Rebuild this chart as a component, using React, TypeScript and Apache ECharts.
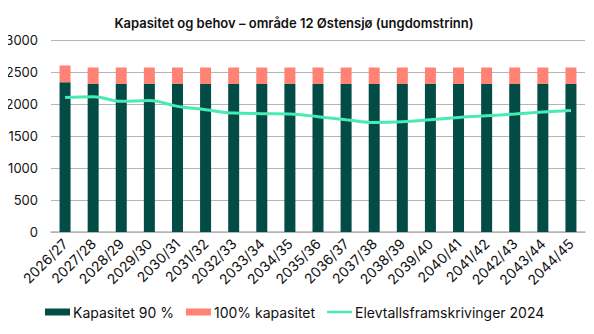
import React, { useEffect, useRef } from "react";
import * as echarts from "echarts";

const categories = [
  "2026/27", "2027/28", "2028/29", "2029/30", "2030/31", "2031/32", "2032/33",
  "2033/34", "2034/35", "2035/36", "2036/37", "2037/38", "2038/39", "2039/40",
  "2040/41", "2041/42", "2042/43", "2043/44", "2044/45",
];
const kapasitet90 = [
  2340, 2313, 2313, 2313, 2313, 2313, 2313, 2313, 2313, 2313, 2313, 2313, 2313,
  2313, 2313, 2313, 2313, 2313, 2313,
];
const kapasitet100Extra = [
  260, 257, 257, 257, 257, 257, 257, 257, 257, 257, 257, 257, 257, 257, 257, 257,
  257, 257, 257,
];
const elevtall = [
  2100, 2115, 2042, 2053, 1963, 1911, 1858, 1849, 1843, 1802, 1755, 1712, 1723,
  1755, 1790, 1817, 1843, 1874, 1900,
];
const yTicks = [0, 500, 1000, 1500, 2000, 2500, 3000];

const FONT = "Inter, 'Noto Sans', sans-serif";
const LINE_ICON = "path://M0,0 L0.01,0 M0,2.2 L25,2.2 L25,4.8 L0,4.8 Z M24.99,7 L25,7";

export default function App() {
  const ref = useRef<HTMLDivElement>(null);
  useEffect(() => {
    if (!ref.current) return;
    const chart = echarts.init(ref.current, undefined, { renderer: "svg" });
    chart.setOption({
      animation: false,
      backgroundColor: "#ffffff",
      title: {
        text: "Kapasitet og behov – område 12 Østensjø (ungdomstrinn)",
        left: 289,
        textAlign: "center",
        top: 11,
        textStyle: { fontFamily: FONT, fontSize: 13, fontWeight: 600, color: "#111" },
      },
      grid: { left: 51, right: 9, top: 40, bottom: 102, containLabel: false },
      xAxis: {
        type: "category",
        data: categories,
        axisTick: { show: false },
        axisLine: { lineStyle: { color: "#b5b5b5", width: 1.5 } },
        axisLabel: {
          rotate: 45,
          interval: 0,
          margin: 9,
          fontFamily: FONT,
          fontSize: 14,
          color: "#111",
        },
      },
      yAxis: {
        type: "value",
        min: yTicks[0],
        max: yTicks[yTicks.length - 1],
        interval: 500,
        axisLabel: {
          fontFamily: FONT,
          fontSize: 13,
          color: "#111",
          margin: 13,
          formatter: (v: number) => String(v),
        },
        splitLine: { lineStyle: { color: "#b5b5b5", width: 1.2 } },
        axisLine: { show: false },
        axisTick: { show: false },
      },
      legend: {
        bottom: 10,
        left: 40,
        itemWidth: 25,
        itemHeight: 7,
        itemGap: 12,
        textStyle: { fontFamily: FONT, fontSize: 14, color: "#111", padding: [0, 0, 0, -2] },
        data: [
          { name: "Kapasitet 90 %", icon: "rect" },
          { name: "100% kapasitet", icon: "rect" },
          { name: "Elevtallsframskrivinger 2024", icon: LINE_ICON },
        ],
      },
      series: [
        {
          name: "Kapasitet 90 %",
          type: "bar",
          stack: "kap",
          barWidth: 11,
          data: kapasitet90,
          itemStyle: { color: "#034B45" },
        },
        {
          name: "100% kapasitet",
          type: "bar",
          stack: "kap",
          barWidth: 11,
          data: kapasitet100Extra,
          itemStyle: { color: "#FF8274" },
        },
        {
          name: "Elevtallsframskrivinger 2024",
          type: "line",
          data: elevtall,
          smooth: 0.4,
          symbol: "none",
          lineStyle: { color: "#48EBB4", width: 3 },
          itemStyle: { color: "#48EBB4" },
        },
      ],
    });
    return () => chart.dispose();
  }, []);
  return (
    <div style={{ position: "relative", width: 594, height: 334, margin: -8 }}>
      <div ref={ref} style={{ width: 594, height: 334 }} />
      <div style={{ position: "absolute", left: 0, top: 0, width: 2, height: 334, background: "#000" }} />
      <div style={{ position: "absolute", left: 591, top: 0, width: 2, height: 334, background: "#000" }} />
    </div>
  );
}
